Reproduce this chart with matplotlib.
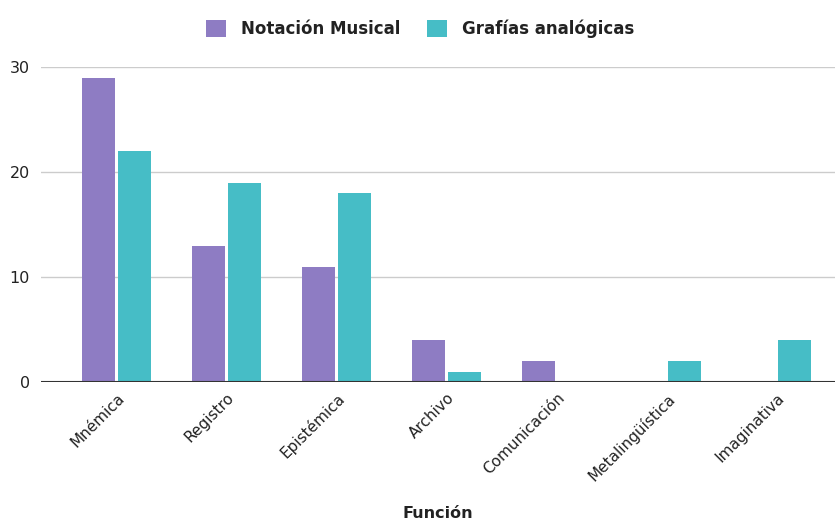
import numpy as np
import matplotlib.pyplot as plt

categorias = ['Mnémica', 'Registro', 'Epistémica', 'Archivo', 'Comunicación',
              'Metalingüística', 'Imaginativa']
notacion = [29, 13, 11, 4, 2, 0, 0]
grafias = [22, 19, 18, 1, 0, 2, 4]

c_not = '#8E7CC3'
c_gra = '#46BDC6'

fig = plt.figure(figsize=(8.4, 5.24), dpi=100)
ax = fig.add_axes([41/840, 142/524, 794/840, 315/524])

x = np.arange(len(categorias))
w = 0.3
ax.bar(x - 0.164, notacion, w, color=c_not, label='Notación Musical', zorder=3)
ax.bar(x + 0.164, grafias, w, color=c_gra, label='Grafías analógicas', zorder=3)

ax.set_xlim(-0.686, 6.53)
ax.set_ylim(0, 30)
ax.set_yticks([0, 10, 20, 30])
ax.grid(axis='y', color='#cccccc', linewidth=1, zorder=0)
ax.axhline(0, color='#333333', linewidth=1.5, zorder=4)
for s in ax.spines.values():
    s.set_visible(False)
ax.tick_params(length=0, labelsize=11.5, colors='#222222')
ax.tick_params(axis='y', pad=8)
ax.tick_params(axis='x', pad=6, labelsize=11)
ax.set_xticks(x)
ax.set_xticklabels(categorias, rotation=45, ha='right', rotation_mode='anchor')

ax.set_xlabel('Función', fontsize=11.5, fontweight='bold', color='#222222', labelpad=16)

leg = fig.legend(loc='center', bbox_to_anchor=(0.5, 1 - 29/524), ncol=2, frameon=False,
                 prop={'size': 12, 'weight': 'bold'}, handlelength=1.2, handleheight=1.2,
                 columnspacing=1.6, handletextpad=0.9)
for t in leg.get_texts():
    t.set_color('#222222')

fig.savefig('out.png', dpi=100)
